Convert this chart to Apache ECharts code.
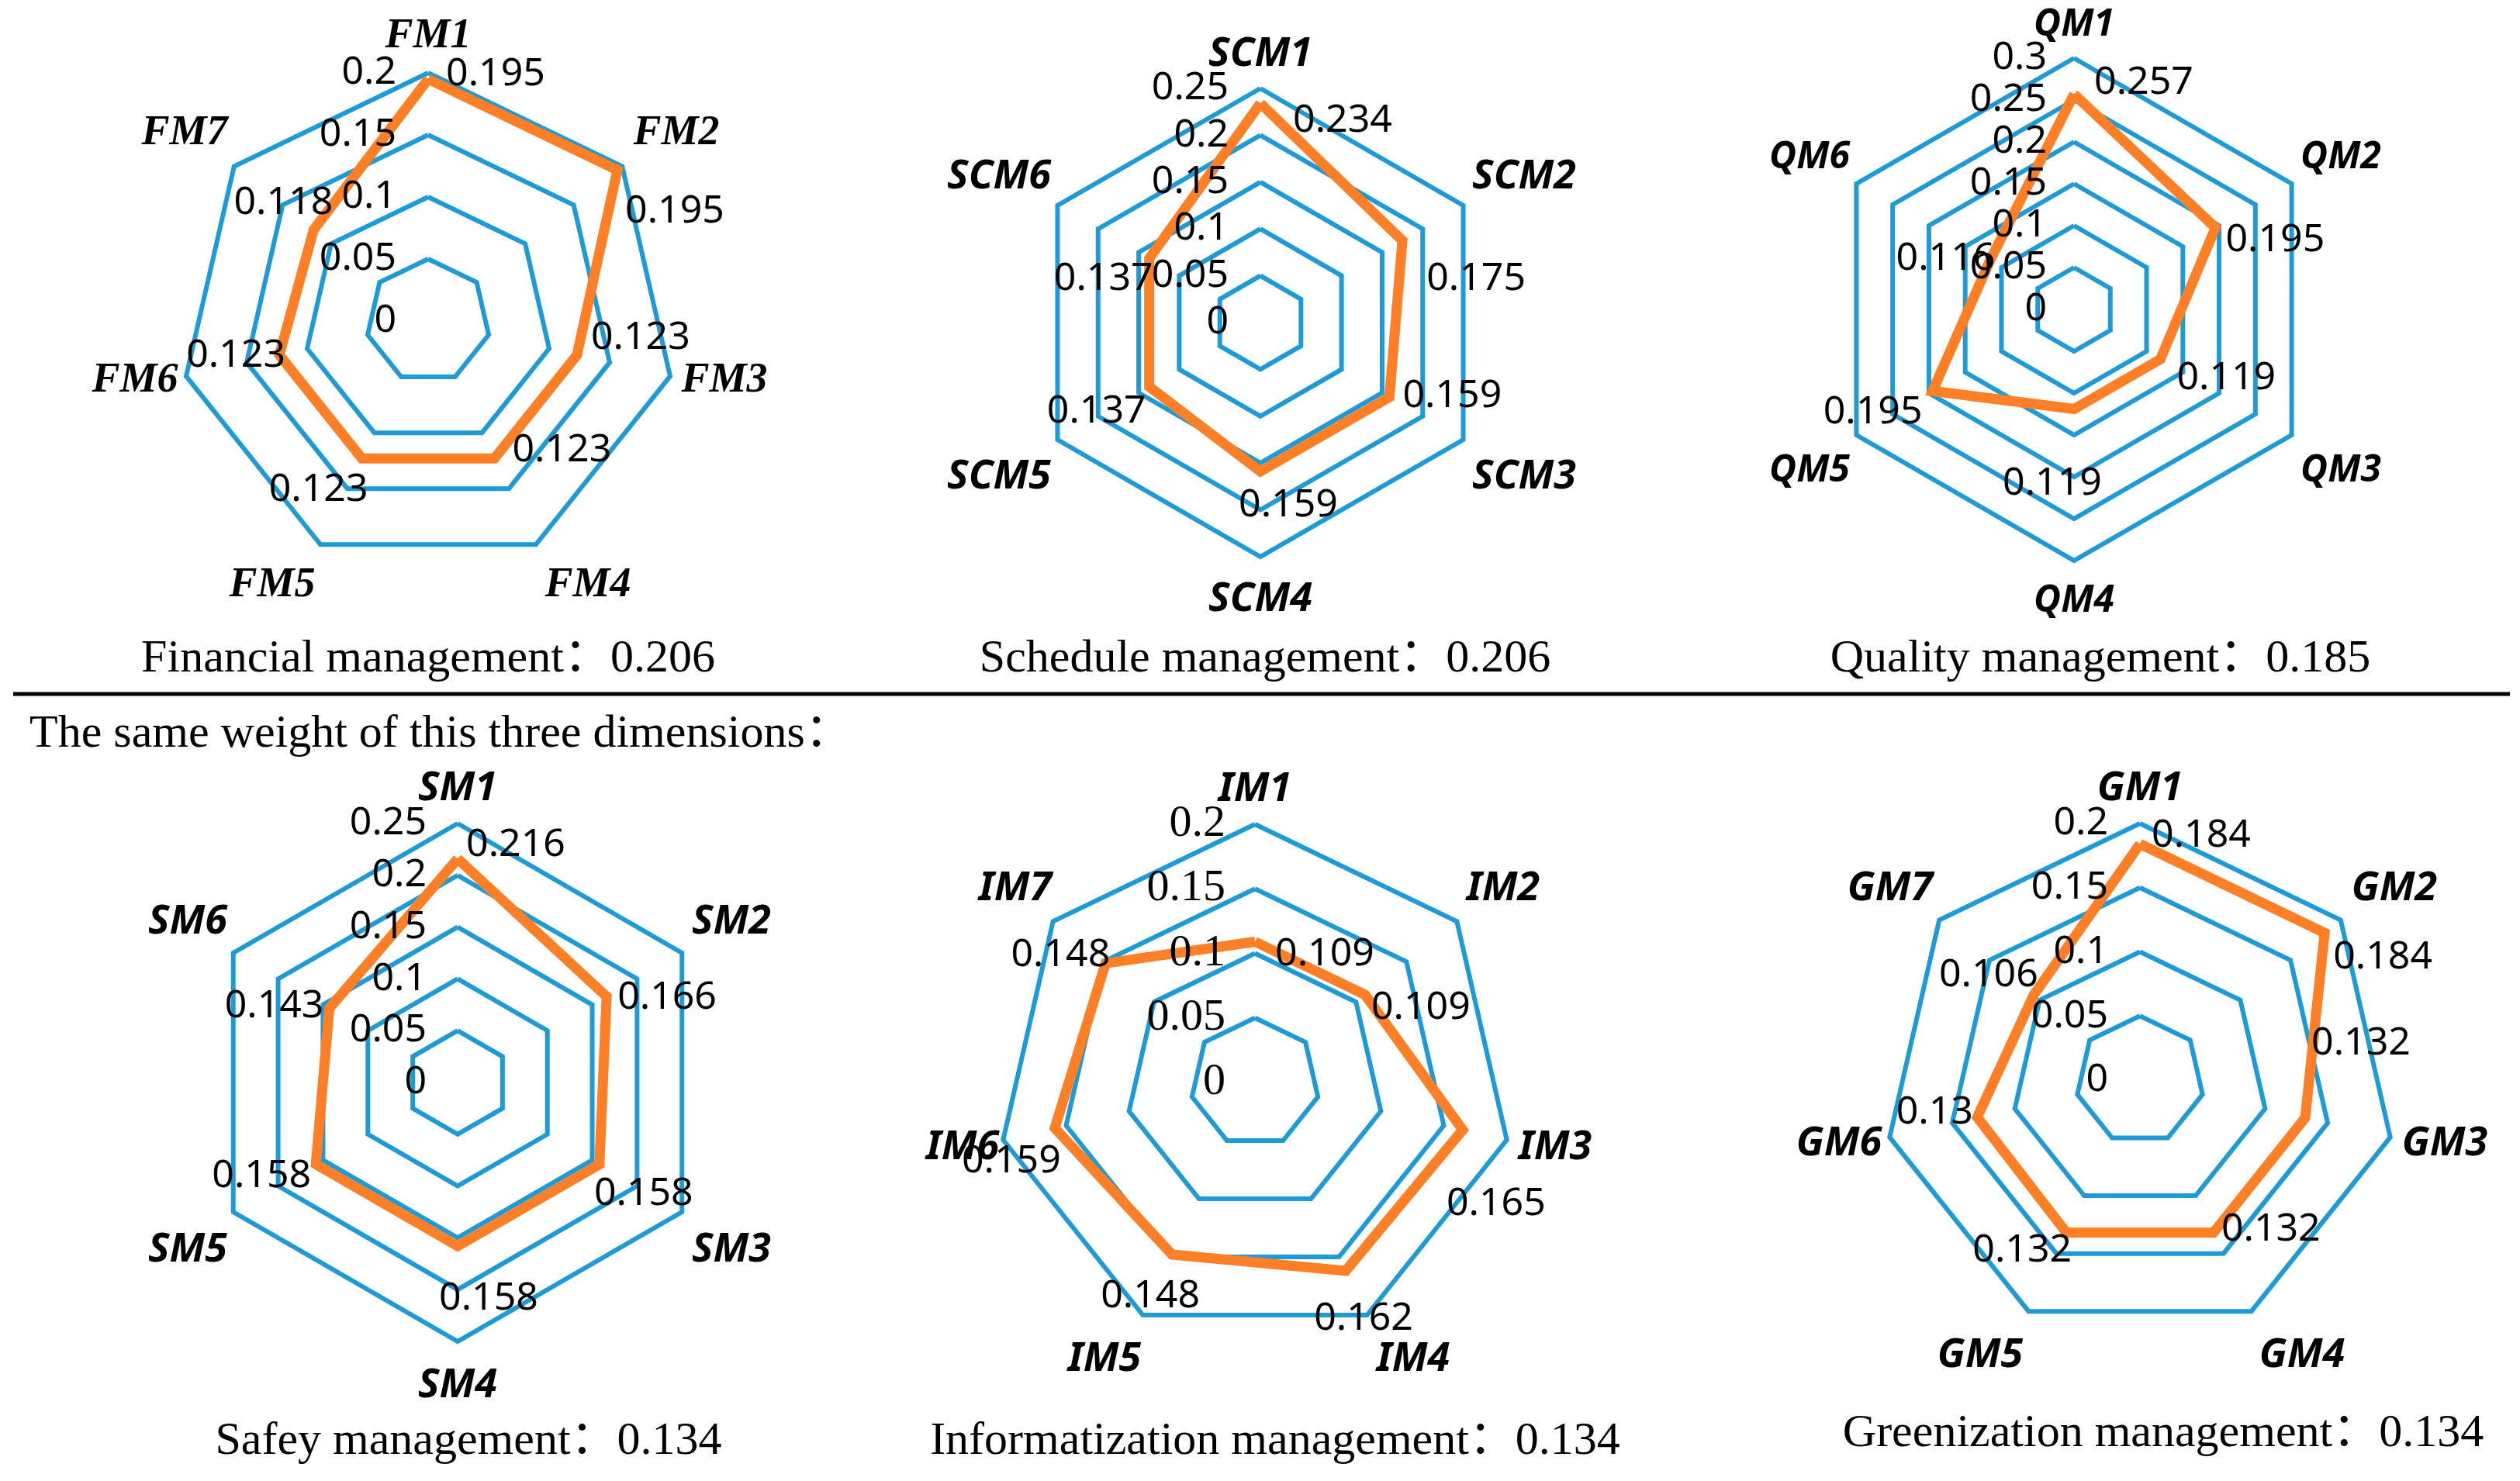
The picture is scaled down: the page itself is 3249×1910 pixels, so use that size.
<!DOCTYPE html>
<html><head><meta charset="utf-8">
<script src="https://cdn.jsdelivr.net/npm/echarts@6/dist/echarts.min.js"></script>
<style>html,body{margin:0;padding:0;background:#fff}#c{width:3249px;height:1910px}</style>
</head><body><div id="c"></div>
<script>
// ---------------- data ----------------
const fmNames = ['FM1','FM2','FM3','FM4','FM5','FM6','FM7'];
const fmValues = [0.195,0.195,0.123,0.123,0.123,0.123,0.118];
const scmNames = ['SCM1','SCM2','SCM3','SCM4','SCM5','SCM6'];
const scmValues = [0.234,0.175,0.159,0.159,0.137,0.137];
const qmNames = ['QM1','QM2','QM3','QM4','QM5','QM6'];
const qmValues = [0.257,0.195,0.119,0.119,0.195,0.116];
const smNames = ['SM1','SM2','SM3','SM4','SM5','SM6'];
const smValues = [0.216,0.166,0.158,0.158,0.158,0.143];
const imNames = ['IM1','IM2','IM3','IM4','IM5','IM6','IM7'];
const imValues = [0.109,0.109,0.165,0.162,0.148,0.159,0.148];
const gmNames = ['GM1','GM2','GM3','GM4','GM5','GM6','GM7'];
const gmValues = [0.184,0.184,0.132,0.132,0.132,0.13,0.106];
const axisMax = [0.2,0.25,0.3,0.25,0.2,0.2];
const axisSplit = [4,5,6,5,4,4];
const dimensionNames = ['Financial management','Schedule management','Quality management','Safey management','Informatization management','Greenization management'];
const dimensionWeights = ['0.206','0.206','0.185','0.134','0.134','0.134'];
const subTitle = 'The same weight of this three dimensions：';

// ---------------- layout / style ----------------
const BLUE = '#1E9BD7', ORANGE = '#FF7F27';
const SANS = 'Noto Sans', SERIF = 'Liberation Serif';
const charts = [
  {names: fmNames, values: fmValues, center:[552,414], R:320, nameFamily:SERIF, nameSize:54, axFamily:SANS, axSize:50, margin:41,
   nameOff:[[2,-367],[320,-242],[382,77],[206,341],[-201,341],[-378,77],[-314,-242]],
   labOff:[[87,-6],[74,53],[82,-22],[87,-11],[-56,40],[-56,1],[-39,-35]], cap:[552,850]},
  {names: scmNames, values: scmValues, center:[1625,416], R:302, nameFamily:SANS, nameSize:52, axFamily:SANS, axSize:50, margin:41,
   nameOff:[[0,-346],[340,-188],[340,199],[2,357],[-337,199],[-337,-188]],
   labOff:[[106,22],[95,49],[81,-1],[36,44],[-68,32],[-59,26]], cap:[1631,850]},
  {names: qmNames, values: qmValues, center:[2674,399], R:324, nameFamily:SANS, nameSize:48, axFamily:SANS, axSize:50, margin:35,
   nameOff:[[2,-367],[344,-196],[344,208],[2,376],[-341,208],[-341,-196]],
   labOff:[[90,-15],[77,16],[85,24],[-28,96],[-77,27],[-57,-3]], cap:[2708,850]},
  {names: smNames, values: smValues, center:[590,1396], R:334, nameFamily:SANS, nameSize:52, axFamily:SANS, axSize:50, margin:40,
   nameOff:[[2,-379],[353,-207],[353,216],[2,391],[-348,216],[-348,-207]],
   labOff:[[75,-18],[78,2],[57,38],[40,68],[-70,15],[-71,-3]], cap:[604,1859]},
  {names: imNames, values: imValues, center:[1618,1396], R:333, nameFamily:SANS, nameSize:52, axFamily:SERIF, axSize:58, margin:38,
   nameOff:[[3,-378],[320,-250],[387,84],[204,357],[-194,357],[-377,84],[-309,-250]],
   labOff:[[90,16],[72,17],[43,96],[23,62],[-28,54],[-56,43],[-58,-11]], cap:[1644,1859]},
  {names: gmNames, values: gmValues, center:[2759,1393], R:331, nameFamily:SANS, nameSize:52, axFamily:SANS, axSize:50, margin:41,
   nameOff:[[1,-376],[328,-247],[393,82],[209,355],[-206,355],[-388,82],[-322,-247]],
   labOff:[[79,-11],[75,32],[72,-96],[74,-4],[-57,23],[-55,-6],[-58,-26]], cap:[2789,1849]}
];

const mctx = document.createElement('canvas').getContext('2d');
function textW(t, font){ mctx.font = font; return mctx.measureText(t).width; }

// Builds a rich-text string that places the indicator name where the reference has it
function nameRich(i, name, off, theta, R, w, h){
  const s = Math.sin(theta), c = Math.cos(theta);
  const dx = off[0], dy = off[1];
  const rich = {};
  let txt = '{n|' + name + '}';
  let vH = 0, above = false;
  if (Math.abs(s) < 1e-3){
    if (c > 0){ vH = -(dy + h/2) - R; above = false; }
    else { vH = dy - h/2 - R; above = true; }
  } else {
    const edge = s > 0 ? dx - w/2 : dx + w/2;
    const hw = Math.max(0, Math.abs(edge) - R*Math.abs(s));
    if (hw > 0.5){
      rich['h' + i] = {width: hw, fontSize: 2, lineHeight: h};
      txt = s > 0 ? '{h' + i + '| }' + txt : txt + '{h' + i + '| }';
    }
    const shift = dy + R*c;
    if (shift > 0){ vH = 2*shift; above = true; } else { vH = -2*shift; above = false; }
  }
  if (vH > 0.5){
    rich['v' + i] = {height: vH, lineHeight: vH, fontSize: 2};
    txt = above ? '{v' + i + '| }\n' + txt : txt + '\n{v' + i + '| }';
  }
  return {txt, rich};
}

const gridRadars = [], labelRadars = [], series = [], graphics = [];
charts.forEach((ch, k) => {
  const n = ch.names.length;
  const order = [0]; for (let i = n-1; i >= 1; i--) order.push(i); // clockwise like Excel
  const font = 'italic bold ' + ch.nameSize + 'px "' + ch.nameFamily + '"';
  const rich = {n: {fontFamily: ch.nameFamily, fontSize: ch.nameSize, fontWeight: 'bold', fontStyle: 'italic', color: '#000', lineHeight: ch.nameSize}};
  const txtMap = {};
  ch.names.forEach((nm, i) => {
    const r = nameRich(i, nm, ch.nameOff[i], 2*Math.PI*i/n, ch.R, textW(nm, font), ch.nameSize);
    Object.assign(rich, r.rich); txtMap[nm] = r.txt;
  });
  const base = {center: ch.center, radius: ch.R, shape: 'polygon', startAngle: 90, splitNumber: axisSplit[k],
    axisNameGap: 0, nameMoveOverlap: false, splitArea: {show: false}, axisLine: {show: false}, axisTick: {show: false}};
  // grid + category names (drawn below the data line)
  gridRadars.push(Object.assign({}, base, {
    z: 0,
    indicator: order.map(i => ({name: ch.names[i], min: 0, max: axisMax[k], nameMoveOverlap: false})),
    axisName: {show: true, color: '#000', fontFamily: ch.nameFamily, fontSize: ch.nameSize, fontWeight: 'bold', fontStyle: 'italic',
      formatter: (v) => txtMap[v], rich: rich},
    splitLine: {lineStyle: {color: BLUE, width: 6}},
    axisLabel: {show: false}
  }));
  // same axes again, only for the tick values, drawn above the data line
  labelRadars.push(Object.assign({}, base, {
    z: 5,
    indicator: order.map(i => {
      const ind = {name: ch.names[i], min: 0, max: axisMax[k], nameMoveOverlap: false};
      if (i === 0) ind.axisLabel = {show: true};
      return ind;
    }),
    axisName: {show: false},
    splitLine: {show: false},
    axisLabel: {show: false, color: '#000', fontFamily: ch.axFamily, fontSize: ch.axSize, margin: ch.margin,
      formatter: (v) => String(parseFloat((+v).toFixed(4)))}
  }));
  series.push({
    type: 'radar', radarIndex: k, symbol: 'circle', symbolSize: 2, z: 3,
    lineStyle: {color: ORANGE, width: 13, join: 'miter'},
    itemStyle: {color: ORANGE},
    label: {show: true, color: '#000', fontFamily: SANS, fontSize: 50},
    labelLayout: function (p) {
      const r = p.rect; const vx = r.x + r.width/2, vy = r.y + r.height/2;
      let th = Math.atan2(vx - ch.center[0], ch.center[1] - vy);
      if (th < 0) th += 2*Math.PI;
      const idx = Math.round(th / (2*Math.PI/n)) % n;
      const o = ch.labOff[idx];
      return {x: vx + o[0], y: vy + o[1], align: 'center', verticalAlign: 'middle'};
    },
    data: [{value: order.map(i => ch.values[i]), name: dimensionNames[k]}]
  });
  graphics.push({type: 'text', x: ch.cap[0], y: ch.cap[1],
    style: {text: dimensionNames[k] + '：' + dimensionWeights[k], fill: '#000', font: '60px "Liberation Serif", "Noto Sans CJK SC"', align: 'center', verticalAlign: 'middle'}});
});
graphics.push({type: 'line', shape: {x1: 17, y1: 895, x2: 3236, y2: 895}, style: {stroke: '#000', lineWidth: 5}});
graphics.push({type: 'text', x: 38, y: 947, style: {text: subTitle, fill: '#000', font: '60px "Liberation Serif", "Noto Sans CJK SC"', align: 'left', verticalAlign: 'middle'}});

const chart = echarts.init(document.getElementById('c'), null, {renderer: 'canvas'});
chart.setOption({animation: false, backgroundColor: '#fff', radar: gridRadars.concat(labelRadars), series: series, graphic: graphics});
</script></body></html>
